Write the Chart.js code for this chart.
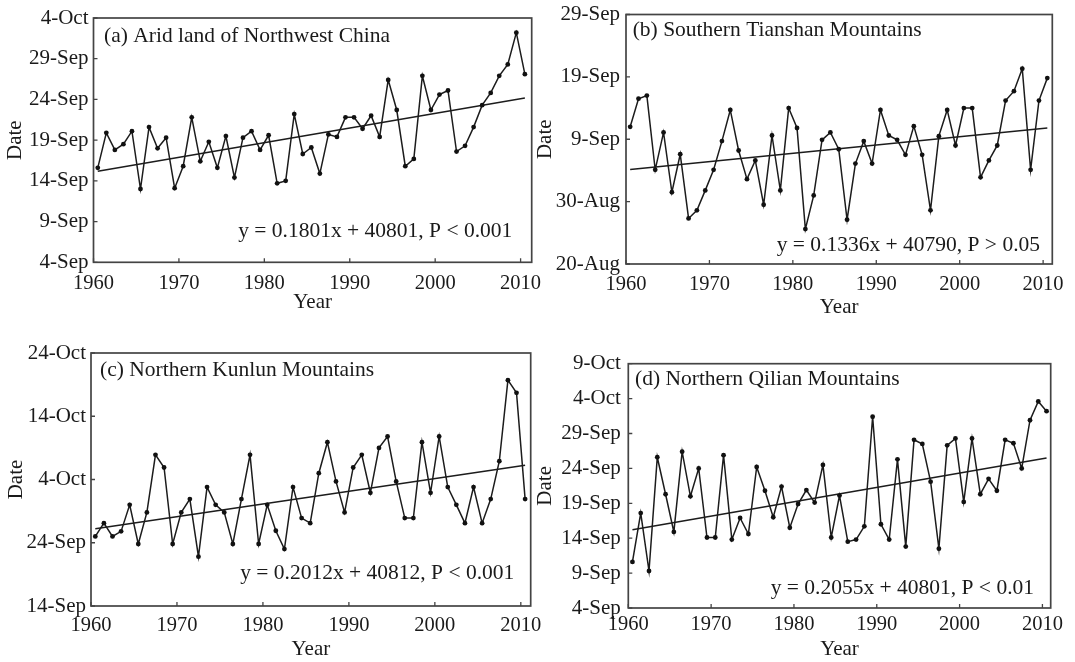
<!DOCTYPE html>
<html>
<head>
<meta charset="utf-8">
<script src="https://cdn.jsdelivr.net/npm/chart.js@4.4.1/dist/chart.umd.min.js"></script>
<style>
  html, body { margin: 0; padding: 0; background: #ffffff; }
  body { width: 1075px; height: 662px; position: relative; overflow: hidden; }
  canvas { position: absolute; }
</style>
</head>
<body>
<canvas id="ca"></canvas>
<canvas id="cb"></canvas>
<canvas id="cc"></canvas>
<canvas id="cd"></canvas>
<script>
// ---------------- DATA ----------------
// Years of record (end date of growing season)
const years = [1961,1962,1963,1964,1965,1966,1967,1968,1969,1970,
               1971,1972,1973,1974,1975,1976,1977,1978,1979,1980,
               1981,1982,1983,1984,1985,1986,1987,1988,1989,1990,
               1991,1992,1993,1994,1995,1996,1997,1998,1999,2000,
               2001,2002,2003,2004,2005,2006,2007,2008,2009,2010,2011];

// Values are day numbers counted from 31-Aug (1 = 1-Sep, 31 = 1-Oct, -11 = 20-Aug)
const aridNW = [15.6,19.9,17.8,18.5,20.1,13.0,20.6,18.0,19.3,13.1,
                15.8,21.8,16.4,18.8,15.6,19.5,14.4,19.3,20.1,17.8,
                19.6,13.7,14.0,22.2,17.3,18.1,14.9,19.7,19.4,21.8,
                21.8,20.4,22.0,19.4,26.4,22.7,15.8,16.7,26.9,22.7,
                24.6,25.1,17.6,18.3,20.6,23.3,24.8,26.9,28.3,32.2,27.1];
const southTianshan = [11.0,15.5,16.0,4.1,10.1,0.5,6.6,-3.7,-2.4,0.8,
                4.1,8.7,13.7,7.2,2.6,5.6,-1.5,9.6,0.8,14.0,
                10.8,-5.4,0.0,8.9,10.1,7.4,-3.9,5.1,8.7,5.1,
                13.7,9.6,8.9,6.5,11.1,6.5,-2.4,9.5,13.7,8.0,
                14.0,14.0,2.9,5.6,8.0,15.2,16.7,20.3,4.1,15.2,18.8];
const northKunlun = [25.0,27.1,25.0,25.8,30.0,23.8,28.8,37.9,35.9,23.8,
                28.8,30.9,21.8,32.8,30.0,28.8,23.8,30.9,37.9,23.8,
                30.0,25.9,23.0,32.8,27.9,27.1,35.0,39.9,33.7,28.8,
                35.9,37.9,31.9,39.0,40.8,33.7,27.9,27.9,39.9,31.9,
                40.8,32.8,30.0,27.1,32.8,27.1,30.9,36.9,49.7,47.7,30.9];
const northQilian = [10.6,17.6,9.3,25.6,20.3,14.9,26.4,20.0,24.0,14.1,
                14.1,25.9,13.8,16.9,14.6,24.2,20.8,17.0,21.4,15.5,
                18.9,20.9,19.1,24.5,14.1,20.1,13.5,13.8,15.7,31.4,
                16.0,13.8,25.3,12.8,28.1,27.5,22.1,12.5,27.3,28.3,
                19.2,28.3,20.3,22.5,20.8,28.1,27.6,24.0,30.9,33.6,32.2];

// Regression y = slope * n + intercept (n = 1..51, intercept as Excel date serial)
const trendSlope = [0.1801, 0.1336, 0.2012, 0.2055];
const trendIntercept = [40801, 40790, 40812, 40801];
const serialOf31Aug = 40786;

const panelTitles = ['(a) Arid land of Northwest China', '(b) Southern Tianshan Mountains',
                     '(c) Northern Kunlun Mountains', '(d) Northern Qilian Mountains'];
const equations = ['y = 0.1801x + 40801, P < 0.001', 'y = 0.1336x + 40790, P > 0.05',
                   'y = 0.2012x + 40812, P < 0.001', 'y = 0.2055x + 40801, P < 0.01'];

// Tick values and labels
const xTicks = [1960, 1970, 1980, 1990, 2000, 2010];
const aTicks = [4, 9, 14, 19, 24, 29, 34];
const aTickLabels = ['4-Sep','9-Sep','14-Sep','19-Sep','24-Sep','29-Sep','4-Oct'];
const bTicks = [-11, -1, 9, 19, 29];
const bTickLabels = ['20-Aug','30-Aug','9-Sep','19-Sep','29-Sep'];
const cTicks = [14, 24, 34, 44, 54];
const cTickLabels = ['14-Sep','24-Sep','4-Oct','14-Oct','24-Oct'];
const dTicks = [4, 9, 14, 19, 24, 29, 34, 39];
const dTickLabels = ['4-Sep','9-Sep','14-Sep','19-Sep','24-Sep','29-Sep','4-Oct','9-Oct'];

// ---------------- RENDERING ----------------
const FONT = "'Liberation Serif', 'Times New Roman', serif";
const INK = '#1a1a1a';
Chart.defaults.font.family = FONT;
Chart.defaults.font.size = 20;
Chart.defaults.color = INK;

const framePlugin = {
  id: 'frame',
  afterDatasetsDraw(chart, args, opts) {
    const { ctx, chartArea: { left, top, right, bottom }, scales: { x, y } } = chart;
    ctx.save();
    ctx.strokeStyle = '#444';
    ctx.lineWidth = 1.7;
    ctx.strokeRect(left, top, right - left, bottom - top);
    ctx.lineWidth = 1.3;
    ctx.beginPath();
    x.ticks.forEach(t => { const p = x.getPixelForValue(t.value); ctx.moveTo(p, bottom); ctx.lineTo(p, bottom - 4); });
    y.ticks.forEach(t => { const p = y.getPixelForValue(t.value); ctx.moveTo(left, p); ctx.lineTo(left + 4, p); });
    ctx.stroke();
    ctx.fillStyle = INK;
    ctx.font = '21.5px ' + FONT;
    ctx.textBaseline = 'middle';
    ctx.textAlign = 'left';
    ctx.fillText(opts.title, left + opts.tdx, top + opts.tdy);
    ctx.textAlign = 'right';
    ctx.fillText(opts.eq, right - opts.edx, bottom - opts.edy);
    ctx.restore();
  }
};

const panels = [
  { id: 'ca', vals: aridNW, ticks: aTicks, labels: aTickLabels, ymin: 4, ymax: 34, xmax: 2011.3,
    canvas: [0, 0, 560, 325], plot: [93.5, 18, 531.7, 262.3],
    ytPad: 5, xtPad: 9, yearPad: 10, datePad: 3, tdx: 10.5, tdy: 18.7, edx: 19.4, edy: 30.6 },
  { id: 'cb', vals: southTianshan, ticks: bTicks, labels: bTickLabels, ymin: -11, ymax: 29, xmax: 2011.1,
    canvas: [530, 0, 545, 325], plot: [626, 14.5, 1052.3, 264],
    ytPad: 6, xtPad: 8, yearPad: 5, datePad: 2.5, tdx: 6.7, tdy: 15.5, edx: 12.3, edy: 19 },
  { id: 'cc', vals: northKunlun, ticks: cTicks, labels: cTickLabels, ymin: 14, ymax: 54, xmax: 2011.15,
    canvas: [0, 325, 560, 337], plot: [91, 353, 530.7, 606],
    ytPad: 5, xtPad: 7, yearPad: 0, datePad: 4.2, tdx: 9, tdy: 17, edx: 16.4, edy: 32.7 },
  { id: 'cd', vals: northQilian, ticks: dTicks, labels: dTickLabels, ymin: 4, ymax: 39, xmax: 2011.0,
    canvas: [530, 325, 545, 337], plot: [628.3, 363.7, 1050.7, 608],
    ytPad: 7.5, xtPad: 4.5, yearPad: 0, datePad: 2.5, tdx: 6.7, tdy: 15.6, edx: 16.7, edy: 19.7 }
];

panels.forEach((p, k) => {
  const [cx, cy, cw, ch] = p.canvas;
  const [L, T, R, B] = p.plot;
  const el = document.getElementById(p.id);
  el.width = cw; el.height = ch;
  el.style.left = cx + 'px'; el.style.top = cy + 'px';
  el.style.width = cw + 'px'; el.style.height = ch + 'px';

  // points sit in the middle of each year interval
  const series = years.map((yr, i) => ({ x: yr - 0.5, y: p.vals[i] }));
  const base = trendIntercept[k] - serialOf31Aug;
  const n0 = 1, n1 = years.length;
  const trend = [
    { x: years[0] - 0.5, y: base + trendSlope[k] * n0 },
    { x: years[years.length - 1] - 0.5, y: base + trendSlope[k] * n1 }
  ];

  new Chart(el, {
    type: 'line',
    data: {
      datasets: [
        { data: series, borderColor: '#1c1c1c', borderWidth: 1.5, pointRadius: 2.4,
          pointBackgroundColor: '#111', pointBorderWidth: 0, tension: 0, fill: false },
        { data: trend, borderColor: '#1c1c1c', borderWidth: 1.5, pointRadius: 0, tension: 0, fill: false }
      ]
    },
    options: {
      responsive: false,
      animation: false,
      devicePixelRatio: 1,
      layout: { padding: { top: T - cy, right: cx + cw - R, left: 0, bottom: 0 } },
      plugins: {
        legend: { display: false },
        tooltip: { enabled: false },
        frame: { title: panelTitles[k], eq: equations[k], tdx: p.tdx, tdy: p.tdy, edx: p.edx, edy: p.edy }
      },
      scales: {
        x: {
          type: 'linear', min: 1960, max: p.xmax,
          grid: { display: false, drawTicks: false },
          border: { display: false },
          afterBuildTicks: s => { s.ticks = xTicks.map(v => ({ value: v })); },
          afterFit: s => { s.height = cy + ch - B; s.paddingLeft = 0; s.paddingRight = 0; },
          ticks: { padding: p.xtPad, autoSkip: false, maxRotation: 0, color: INK,
                   font: { size: 20.5 }, callback: v => String(v) },
          title: { display: true, text: 'Year', color: INK, font: { size: 21 },
                   padding: { top: 0, bottom: p.yearPad } }
        },
        y: {
          type: 'linear', min: p.ymin, max: p.ymax,
          grid: { display: false, drawTicks: false },
          border: { display: false },
          afterBuildTicks: s => { s.ticks = p.ticks.map(v => ({ value: v })); },
          afterFit: s => { s.width = L - cx; s.paddingTop = 0; s.paddingBottom = 0; },
          ticks: { padding: p.ytPad, autoSkip: false, color: INK, font: { size: 21 },
                   callback: v => { const i = p.ticks.indexOf(v); return i >= 0 ? p.labels[i] : ''; } },
          title: { display: true, text: 'Date', color: INK, font: { size: 21 },
                   padding: { top: p.datePad, bottom: 0 } }
        }
      }
    },
    plugins: [framePlugin]
  });
});
</script>
</body>
</html>
